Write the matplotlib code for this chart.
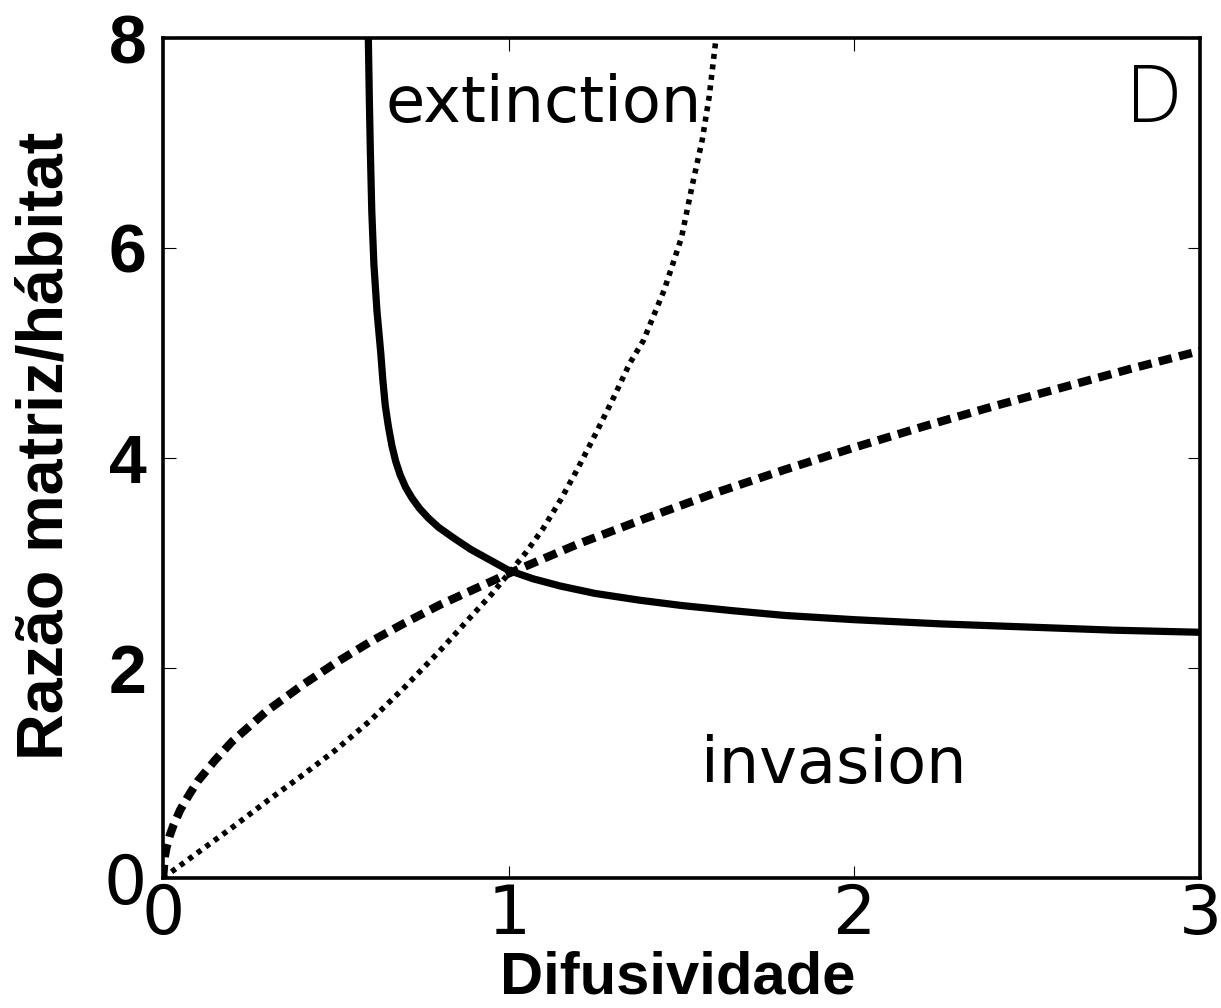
import matplotlib
matplotlib.use("Agg")
import matplotlib.pyplot as plt

# Critical boundary (solid)
solid_x = [0.594, 0.597, 0.600, 0.604, 0.610, 0.619, 0.630, 0.636, 0.643, 0.652, 0.662,
           0.673, 0.686, 0.702, 0.720, 0.742, 0.767, 0.797, 0.840, 0.890, 0.945, 1.00,
           1.07, 1.15, 1.25, 1.38, 1.50, 1.65, 1.80, 2.00, 2.25, 2.50, 2.75, 3.00]
solid_y = [8.0, 7.4, 6.9, 6.35, 5.85, 5.4, 5.0, 4.74, 4.5, 4.3, 4.12,
           3.97, 3.84, 3.72, 3.62, 3.52, 3.43, 3.34, 3.24, 3.13, 3.03, 2.93,
           2.85, 2.78, 2.71, 2.645, 2.595, 2.545, 2.50, 2.46, 2.42, 2.39, 2.36, 2.34]

# Dashed curve
dashed_x = [0, 0.005, 0.01, 0.02, 0.03, 0.05, 0.075, 0.1, 0.15, 0.2, 0.3, 0.4, 0.5, 0.6,
            0.7, 0.8, 0.9, 1.0, 1.2, 1.4, 1.6, 1.8, 2.0, 2.2, 2.4, 2.6, 2.8, 3.0]
dashed_y = [0, 0.20, 0.29, 0.41, 0.50, 0.65, 0.79, 0.92, 1.12, 1.30, 1.59, 1.83, 2.05, 2.25,
            2.43, 2.60, 2.75, 2.90, 3.18, 3.43, 3.67, 3.89, 4.10, 4.30, 4.49, 4.67, 4.85, 5.02]

# Dotted curve
dotted_x = [0, 0.1, 0.2, 0.3, 0.4, 0.5, 0.6, 0.7, 0.8, 0.88, 0.95, 1.0, 1.05, 1.1, 1.15,
            1.2, 1.25, 1.3, 1.35, 1.39, 1.42, 1.45, 1.48, 1.50, 1.53, 1.56, 1.58, 1.60]
dotted_y = [0, 0.24, 0.48, 0.73, 0.97, 1.22, 1.50, 1.82, 2.16, 2.45, 2.70, 2.90, 3.10, 3.33,
            3.60, 3.90, 4.22, 4.55, 4.90, 5.12, 5.36, 5.60, 5.90, 6.10, 6.58, 7.03, 7.44, 8.0]

x_ticks = [0, 1, 2, 3]
y_ticks = [0, 2, 4, 6, 8]
x_label = "Difusividade"
y_label = "Razão matriz/hábitat"

fig = plt.figure(figsize=(12.21, 10.08), dpi=100)
ax = fig.add_axes([0.1335, 0.129, 0.9828 - 0.1335, 0.9623 - 0.129])

ax.plot(solid_x, solid_y, color="black", lw=5.2, solid_capstyle="butt")
ax.plot(dashed_x, dashed_y, color="black", lw=6.0, linestyle=(0, (1.6, 0.9)))
ax.plot(dotted_x, dotted_y, color="black", lw=4.0, linestyle=(0, (0.9, 1.0)))

ax.set_xlim(0, 3)
ax.set_ylim(0, 8)
ax.set_xticks(x_ticks)
ax.set_yticks(y_ticks)

for s in ax.spines.values():
    s.set_linewidth(2.6)

ax.tick_params(direction="in", length=9, width=0.8, top=True, right=True,
               labelsize=49)
ax.tick_params(axis="x", pad=3)
ax.tick_params(axis="y", pad=12)

for lab in ax.get_xticklabels():
    lab.set_family("DejaVu Sans")
for lab in ax.get_yticklabels():
    if lab.get_text() == "0":
        lab.set_family("DejaVu Sans")
    else:
        lab.set_family("Liberation Sans")
        lab.set_fontweight("bold")

ax.set_xlabel(x_label, fontsize=43, fontweight="bold", family="Liberation Sans")
ax.set_ylabel(y_label, fontsize=46.5, fontweight="bold", family="Liberation Sans")
ax.xaxis.set_label_coords(0.4966, -0.086)
ax.yaxis.set_label_coords(-0.084, 0.514)

ax.text(0.643, 7.2, "extinction", fontsize=46, family="DejaVu Sans", va="baseline", ha="left")
ax.text(1.557, 0.905, "invasion", fontsize=46, family="DejaVu Sans", va="baseline", ha="left")
ax.text(2.948, 7.78, "D", fontsize=57, family="Open Sans", fontweight="light",
        va="top", ha="right")

fig.savefig("out.png", dpi=100, facecolor="white")
